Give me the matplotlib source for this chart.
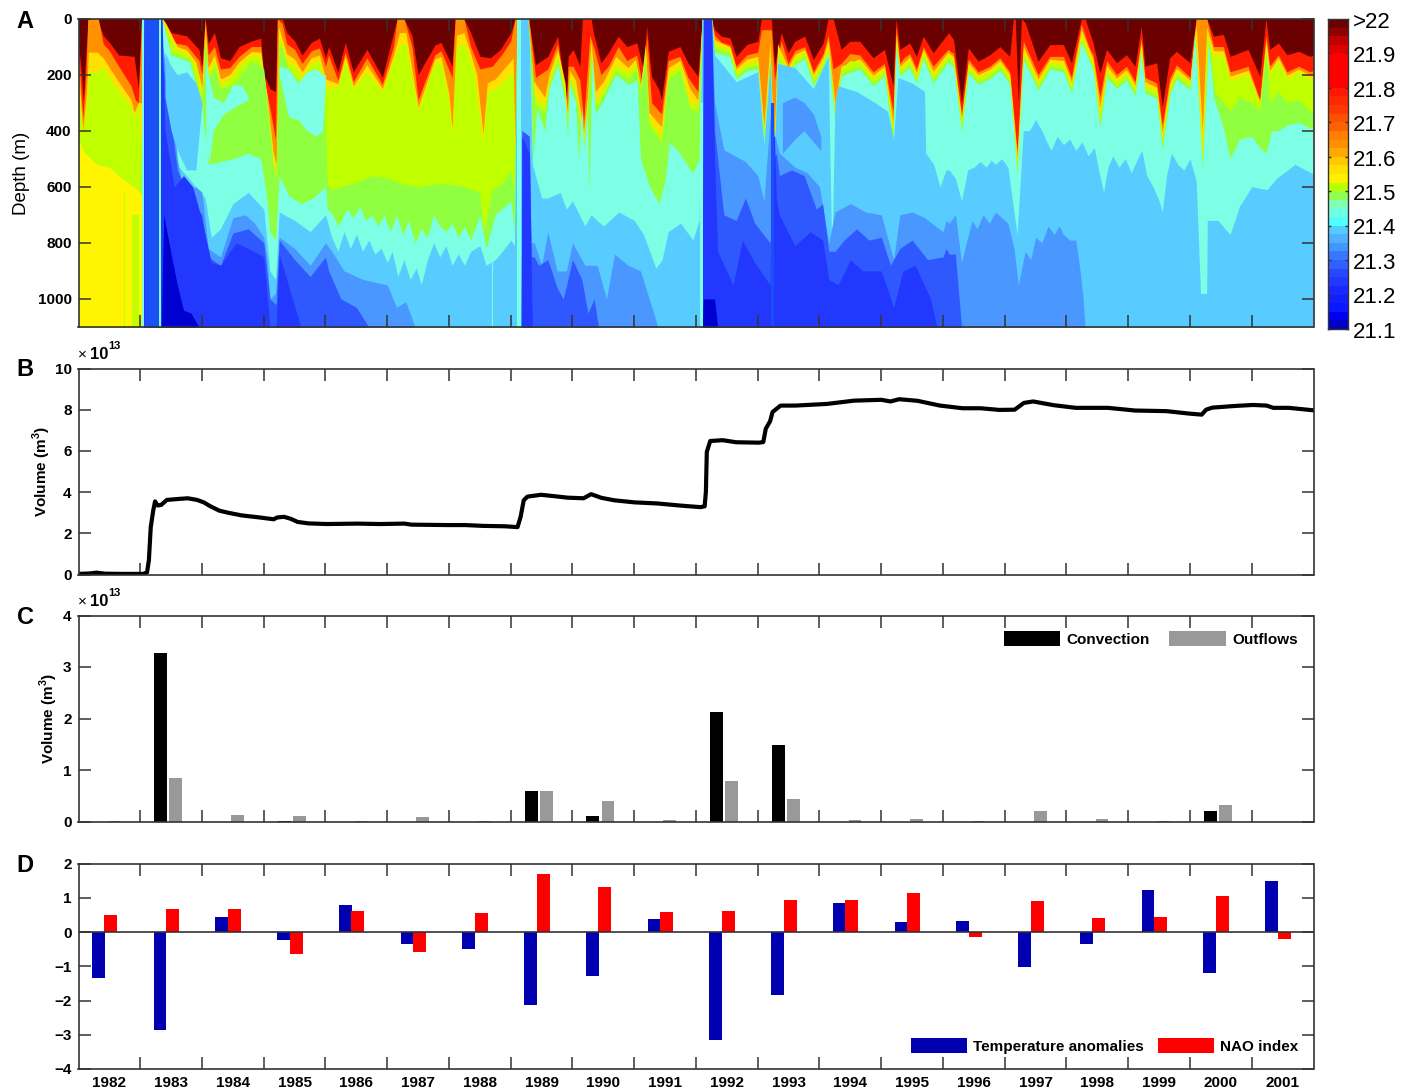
#!/usr/bin/python3

import numpy as np
import matplotlib
matplotlib.use('Agg')
import matplotlib.pyplot as plt
from matplotlib.colors import ListedColormap

W, H = 1410, 1090

plt.rcParams['font.family'] = ['Liberation Sans', 'DejaVu Sans']
plt.rcParams['font.weight'] = 'bold'
plt.rcParams['axes.labelweight'] = 'bold'
plt.rcParams['mathtext.fontset'] = 'custom'
plt.rcParams['mathtext.rm'] = 'Liberation Sans:bold'
plt.rcParams['mathtext.bf'] = 'Liberation Sans:bold'

# x axis of every panel: years since 1900
year_labels = ['1982', '1983', '1984', '1985', '1986', '1987', '1988', '1989', '1990', '1991',
               '1992', '1993', '1994', '1995', '1996', '1997', '1998', '1999', '2000', '2001']

# panel A: depth (m) of the lower edge of each colour band, (year, depth)
edge_maroon = [(82.0,90),(82.05,200),(82.08,290),(82.12,120),(82.16,0),(82.3,0),(82.4,60),(82.5,85),(82.65,130),(82.9,135),(82.97,250),(83.02,0),
    (83.36,0),(83.5,50),(83.75,62),(83.95,110),(84.0,170),(84.05,0),(84.1,90),(84.2,50),(84.3,140),(84.45,150),(84.6,100),(84.8,80),(84.95,70),(85.0,200),(85.1,250),(85.19,260),(85.22,0),
    (85.3,0),(85.37,50),(85.5,80),(85.62,130),(85.77,85),(85.9,70),(86.0,140),(86.05,100),(86.2,190),(86.32,85),(86.45,190),(86.67,110),(86.92,210),(87.16,0),(87.27,0),
    (87.4,60),(87.5,200),(87.77,95),(87.87,85),(88.05,170),(88.1,0),(88.24,0),(88.35,50),(88.5,135),(88.67,140),(88.83,111),(89.0,51),(89.07,0),
    (89.29,0),(89.4,165),(89.6,135),(89.76,63),(89.9,290),(89.93,135),(90.01,110),(90.12,170),(90.16,0),(90.3,0),(90.34,51),(90.46,158),(90.58,122),(90.74,63),(90.88,100),(91.04,87),(91.15,182),(91.2,27),(91.28,206),(91.4,254),(91.44,290),
    (91.55,117),(91.74,100),(91.87,158),(92.03,206),(92.1,0),(92.25,0),(92.3,39),(92.41,63),(92.55,69),(92.65,135),(92.82,93),(93.0,81),(93.06,0),(93.22,0),(93.27,170),(93.38,51),(93.49,122),(93.6,81),(93.76,63),(93.9,146),
    (94.06,87),(94.14,0),(94.22,0),(94.35,110),(94.49,81),(94.65,81),(94.87,140),(95.05,110),(95.19,240),(95.24,0),(95.3,110),(95.37,100),(95.46,87),(95.57,135),(95.68,63),(95.84,122),(96.09,51),
    (96.17,75),(96.3,300),(96.41,105),(96.57,152),(96.76,129),(96.92,100),(97.08,135),(97.14,0),(97.17,0),(97.22,300),(97.27,0),(97.33,15),(97.54,152),(97.73,93),(97.95,93),(98.08,158),(98.24,0),(98.3,0),(98.43,87),(98.54,194),(98.65,110),(98.81,158),(98.97,129),
    (99.11,170),(99.21,27),(99.27,170),(99.46,158),(99.55,313),(99.67,140),(99.78,117),(100.0,158),(100.1,0),(100.27,0),(100.38,63),(100.54,57),(100.65,135),(100.94,110),(101.13,206),(101.23,0),(101.29,110),(101.43,87),(101.57,129),(101.76,117),(101.94,135),(102.0,130)]

edge_red = [(82.0,120),(82.07,360),(82.12,200),(82.15,0),(82.32,0),(82.4,90),(82.5,115),(82.65,170),(82.85,240),(82.92,290),(82.97,300),(83.02,0),
    (83.36,0),(83.5,85),(83.75,95),(83.95,150),(84.0,200),(84.05,0),(84.1,130),(84.2,100),(84.3,180),(84.45,175),(84.6,135),(84.8,100),(84.95,100),(85.0,210),(85.1,320),(85.19,430),(85.22,0),(85.3,20),(85.37,90),(85.5,110),(85.62,160),(85.77,115),(85.9,105),
    (86.0,170),(86.05,130),(86.2,220),(86.32,120),(86.45,225),(86.67,140),(86.92,235),(87.1,100),(87.16,0),(87.27,0),(87.4,100),(87.5,290),(87.77,130),(87.87,115),(88.05,210),(88.1,0),(88.24,0),(88.35,100),(88.5,180),(88.7,170),(88.85,130),(89.0,80),(89.07,0),
    (89.29,0),(89.4,210),(89.6,180),(89.76,90),(89.9,340),(89.93,170),(90.01,170),(90.12,220),(90.18,370),(90.28,60),(90.34,100),(90.46,200),(90.58,170),(90.74,100),(90.88,150),(91.04,130),(91.15,260),(91.2,60),(91.28,300),(91.44,340),(91.55,150),(91.74,135),(91.87,210),(92.03,260),(92.1,0),
    (92.25,0),(92.3,60),(92.41,85),(92.55,95),(92.65,170),(92.82,130),(93.0,120),(93.06,40),(93.22,40),(93.27,220),(93.38,80),(93.49,160),(93.6,115),(93.76,100),(93.9,190),(94.06,125),(94.14,60),(94.22,180),(94.35,160),(94.49,125),(94.65,130),(94.87,190),(95.05,160),(95.19,330),(95.24,30),(95.3,160),(95.37,140),(95.46,125),(95.57,180),(95.68,100),(95.84,170),(96.08,110),
    (96.17,125),(96.3,340),(96.41,145),(96.57,190),(96.76,170),(96.92,140),(97.08,190),(97.2,470),(97.3,80),(97.54,200),(97.73,135),(97.95,135),(98.08,210),(98.24,20),(98.36,100),(98.43,130),(98.54,280),(98.65,150),(98.81,200),(98.97,170),(99.11,225),(99.21,70),(99.27,210),(99.46,230),(99.55,380),(99.67,215),(99.78,165),(100.0,210),(100.1,0),(100.27,0),(100.38,100),(100.54,100),(100.65,190),(100.94,170),(101.13,290),(101.23,60),(101.29,170),(101.43,130),(101.57,190),(101.76,170),(101.94,190),(102.0,185)]

edge_orange = [(82.0,190),(82.07,400),(82.13,260),(82.16,120),(82.3,120),(82.4,140),(82.5,175),(82.65,225),(82.85,290),(82.9,335),(82.97,300),(83.03,300),(83.06,0),
    (83.36,0),(83.42,20),(83.6,100),(83.75,112),(83.9,155),(84.0,245),(84.05,30),(84.1,175),(84.2,130),(84.3,215),(84.45,200),(84.6,155),(84.8,118),(84.95,120),(85.05,270),(85.15,470),(85.2,520),(85.24,30),(85.37,125),(85.5,145),(85.62,190),(85.77,140),(85.9,130),(86.0,215),(86.2,232),(86.32,135),(86.45,240),(86.67,165),(86.92,250),(87.1,130),(87.2,50),(87.3,50),(87.5,315),(87.77,145),(87.87,135),(88.0,270),(88.05,390),(88.12,60),(88.24,50),(88.35,125),(88.45,200),(88.55,410),(88.62,230),(88.75,215),(89.04,140),(89.07,500),(89.1,0),
    (89.28,0),(89.36,220),(89.55,280),(89.62,200),(89.76,110),(89.88,230),(89.92,350),(89.95,185),(90.05,220),(90.18,405),(90.24,280),(90.3,80),(90.37,260),(90.5,225),(90.7,135),(90.9,175),(91.02,145),(91.1,240),(91.18,90),(91.24,335),(91.44,385),(91.55,175),(91.74,150),(91.9,250),(92.03,290),(92.1,0),
    (92.25,0),(92.3,75),(92.55,102),(92.65,180),(92.82,145),(93.0,135),(93.1,380),(93.2,80),(93.26,470),(93.32,90),(93.49,175),(93.6,128),(93.76,110),(93.9,200),(94.06,137),(94.14,80),(94.25,300),(94.35,170),(94.65,143),(94.87,202),(95.05,170),(95.19,370),(95.24,55),(95.3,170),(95.46,137),(95.57,192),(95.68,110),(95.84,188),(96.08,120),
    (96.17,137),(96.3,355),(96.41,158),(96.57,200),(96.76,180),(96.92,150),(97.08,200),(97.2,495),(97.3,100),(97.54,215),(97.73,145),(97.95,150),(98.08,225),(98.24,40),(98.43,145),(98.54,315),(98.65,167),(98.81,212),(98.97,182),(99.11,237),(99.21,85),(99.27,225),(99.46,245),(99.55,405),(99.67,232),(99.78,177),(100.0,220),(100.1,20),(100.2,400),(100.27,30),(100.38,115),(100.54,115),(100.65,205),(100.94,185),(101.13,295),(101.23,80),(101.29,185),(101.43,140),(101.57,202),(101.76,180),(101.94,202),(102.0,198)]

edge_yellow = [(82.0,240),(82.07,420),(82.13,300),(82.17,190),(82.3,190),(82.4,170),(82.5,210),(82.65,260),(82.85,310),(82.9,355),(82.97,300),(83.04,600),(83.07,0),
    (83.35,0),(83.42,40),(83.6,110),(83.75,125),(83.9,170),(84.0,270),(84.05,60),(84.1,200),(84.2,150),(84.3,235),(84.45,215),(84.6,170),(84.8,130),(84.95,135),(85.05,300),(85.15,500),(85.2,560),(85.25,60),(85.37,150),(85.5,170),(85.62,210),(85.77,160),(85.9,150),(86.0,250),(86.2,240),(86.32,150),(86.45,250),(86.67,190),(86.92,260),(87.1,150),(87.2,90),(87.3,90),(87.5,330),(87.77,160),(87.87,150),(88.0,300),(88.05,420),(88.12,100),(88.24,90),(88.3,120),(88.4,190),(88.55,440),(88.62,260),(88.75,250),(89.04,190),(89.07,694),(89.12,0),
    (89.28,0),(89.3,50),(89.36,250),(89.4,280),(89.55,310),(89.62,220),(89.76,130),(89.88,260),(89.92,360),(89.95,200),(90.05,260),(90.18,430),(90.24,300),(90.3,100),(90.37,300),(90.5,250),(90.7,165),(90.9,195),(91.02,160),(91.1,240),(91.18,120),(91.24,360),(91.44,420),(91.55,200),(91.74,165),(91.9,300),(92.03,310),(92.1,0),
    (92.25,0),(92.3,90),(92.41,100),(92.55,110),(92.65,190),(92.82,160),(93.0,150),(93.03,260),(93.1,400),(93.2,120),(93.26,490),(93.32,120),(93.38,130),(93.49,190),(93.6,140),(93.76,120),(93.9,210),(94.06,150),(94.14,100),(94.25,330),(94.35,180),(94.49,150),(94.65,155),(94.87,215),(95.05,180),(95.19,400),(95.24,80),(95.3,180),(95.37,165),(95.46,150),(95.57,205),(95.68,120),(95.84,205),(96.08,130),
    (96.17,150),(96.3,370),(96.41,170),(96.57,210),(96.76,190),(96.92,160),(97.08,210),(97.2,520),(97.3,120),(97.54,230),(97.73,155),(97.95,165),(98.08,240),(98.24,60),(98.36,130),(98.43,160),(98.54,350),(98.65,185),(98.81,225),(98.97,195),(99.11,250),(99.21,100),(99.27,240),(99.46,260),(99.55,430),(99.67,250),(99.78,190),(100.0,230),(100.08,40),(100.2,500),(100.27,60),(100.38,130),(100.54,130),(100.65,220),(100.94,200),(101.13,300),(101.23,100),(101.29,200),(101.43,150),(101.57,215),(101.76,190),(101.94,215),(102.0,210)]

edge_lime = [(82.0,430),(82.1,480),(82.3,520),(82.5,530),(82.7,570),(82.9,600),(83.0,620),(83.06,0),
    (83.35,0),(83.5,120),(83.8,145),(84.0,290),(84.05,70),(84.1,215),(84.2,170),(84.3,250),(84.5,235),(84.8,150),(85.0,180),(85.15,520),(85.2,570),(85.25,80),(85.4,180),(85.6,230),(85.77,180),(85.98,270),(86.03,590),(86.1,610),(86.3,595),(86.5,585),(86.75,560),(87.0,570),(87.25,590),(87.5,600),(87.75,590),(88.0,590),(88.25,600),(88.5,620),(88.55,760),(88.62,700),(88.7,610),(88.85,590),(89.0,540),(89.05,620),(89.1,0),
    (89.3,60),(89.4,310),(89.55,330),(89.62,240),(89.76,150),(89.88,280),(89.92,380),(89.95,215),(90.05,280),(90.18,450),(90.24,320),(90.3,120),(90.37,320),(90.5,270),(90.7,185),(90.9,215),(91.02,180),(91.1,260),(91.18,140),(91.24,380),(91.44,440),(91.55,220),(91.74,185),(91.9,320),(92.03,330),(92.1,0),
    (92.25,0),(92.3,105),(92.55,125),(92.65,205),(92.82,175),(93.0,165),(93.1,420),(93.2,140),(93.26,510),(93.32,140),(93.49,205),(93.6,155),(93.76,135),(93.9,225),(94.06,165),(94.14,115),(94.25,350),(94.35,195),(94.65,170),(94.87,230),(95.05,195),(95.19,420),(95.24,95),(95.3,195),(95.46,165),(95.57,220),(95.68,135),(95.84,220),(96.08,145),(96.17,165),(96.3,390),(96.41,185),(96.57,225),(96.76,205),(96.92,175),(97.08,225),(97.2,540),(97.3,135),(97.54,245),(97.73,170),(97.95,180),(98.08,255),(98.24,75),(98.43,175),(98.54,370),(98.65,200),(98.81,240),(98.97,210),(99.11,265),(99.21,115),(99.27,255),(99.46,275),(99.55,445),(99.67,265),(99.78,205),(100.0,245),(100.08,50),(100.2,520),(100.3,75),
    (100.4,260),(100.65,330),(100.8,280),(101.0,300),(101.13,330),(101.23,120),(101.29,300),(101.43,260),(101.57,300),(101.76,290),(101.94,330),(102.0,335)]

edge_green = [(82.0,1100),(83.03,1100),(83.06,0),(83.35,0),(83.5,130),(83.8,155),(84.0,320),(84.1,520),(84.3,510),(84.5,500),(84.75,480),(84.95,500),(85.05,640),(85.1,760),(85.19,790),(85.25,560),(85.4,630),(85.6,660),(85.8,640),(86.0,600),(86.03,680),(86.12,700),(86.2,740),(86.25,720),(86.35,680),(86.45,710),(86.55,670),(86.65,720),(86.75,700),(86.85,740),(86.95,700),(87.05,760),(87.15,700),(87.25,770),(87.35,720),(87.45,800),(87.55,750),(87.65,780),(87.75,700),(87.85,740),(87.95,760),(88.05,730),(88.15,780),(88.25,740),(88.35,790),(88.45,730),(88.5,700),(88.6,820),(88.75,700),(89.0,650),(89.06,760),(89.1,0),
    (89.3,70),(89.36,500),(89.42,320),(89.55,400),(89.62,250),(89.76,165),(89.88,300),(89.92,420),(89.95,230),(90.05,300),(90.1,500),(90.15,310),(90.18,470),(90.24,340),(90.27,620),(90.32,130),(90.37,340),(90.5,290),(90.7,200),(90.9,235),(91.05,220),(91.1,500),(91.25,600),(91.4,660),(91.5,580),(91.57,440),(91.7,470),(91.85,520),(91.95,550),(92.05,500),(92.1,0),
    (92.25,0),(92.3,120),(92.55,135),(92.65,215),(92.82,185),(93.0,180),(93.1,440),(93.2,150),(93.26,530),(93.32,150),(93.49,215),(93.6,165),(93.76,145),(93.9,240),(94.06,175),(94.14,125),(94.25,370),(94.35,205),(94.65,180),(94.87,240),(95.05,205),(95.19,440),(95.24,105),(95.3,205),(95.46,175),(95.57,230),(95.68,145),(95.84,230),(96.08,155),(96.17,175),(96.3,405),(96.41,195),(96.57,235),(96.76,215),(96.92,185),(97.08,235),(97.2,555),(97.3,145),(97.54,255),(97.73,180),(97.95,190),(98.08,265),(98.24,85),(98.43,185),(98.54,390),(98.65,210),(98.81,250),(98.97,220),(99.11,275),(99.21,125),(99.27,265),(99.46,285),(99.55,470),(99.67,275),(99.78,215),(100.0,255),(100.08,60),(100.2,540),(100.3,85),
    (100.38,280),(100.54,390),(100.65,500),(100.8,430),(101.0,420),(101.13,460),(101.23,480),(101.32,400),(101.43,400),(101.57,380),(101.76,370),(101.94,390),(102.0,395)]

edge_turq = [(82.0,1100),(83.03,1100),(83.06,0),(83.35,0),(83.4,200),(83.5,500),(83.75,560),(84.05,640),(84.15,780),(84.3,750),(84.5,660),(84.75,620),(85.0,680),(85.1,900),(85.19,930),(85.25,690),(85.5,720),(85.75,760),(86.0,700),(86.1,780),(86.2,830),(86.3,760),(86.4,820),(86.5,770),(86.6,830),(86.7,790),(86.8,840),(86.9,820),(87.0,870),(87.08,830),(87.17,920),(87.27,860),(87.37,930),(87.47,890),(87.55,950),(87.65,860),(87.75,800),(87.85,850),(87.95,810),(88.05,880),(88.15,840),(88.25,880),(88.35,830),(88.5,810),(88.6,880),(88.75,860),(88.9,820),(89.0,790),(89.06,810),(89.1,0),
    (89.28,0),(89.3,80),(89.35,520),(89.5,640),(89.6,640),(89.8,620),(89.9,680),(90.0,650),(90.2,740),(90.3,700),(90.5,740),(90.75,690),(91.0,720),(91.15,770),(91.35,890),(91.45,860),(91.55,760),(91.75,730),(91.95,790),(92.05,720),(92.1,0),
    (92.25,0),(92.3,130),(92.65,225),(93.0,190),(93.1,450),(93.2,160),(93.26,540),(93.32,160),(93.6,175),(93.9,250),(94.14,135),(94.2,860),(94.25,300),(94.3,240),(94.6,260),(94.9,300),(95.1,330),(95.2,430),(95.27,210),(95.5,230),(95.7,260),(95.72,480),(95.85,520),(95.95,600),(96.05,540),
    (96.1,540),(96.2,570),(96.3,650),(96.4,540),(96.5,530),(96.6,510),(96.7,530),(96.78,505),(96.85,520),(96.95,500),(97.05,530),(97.2,770),(97.3,400),(97.4,400),(97.5,360),(97.6,400),(97.68,440),(97.75,470),(97.85,420),(97.95,450),(98.05,430),(98.15,470),(98.25,440),(98.35,490),(98.45,460),(98.52,540),(98.6,620),(98.67,530),(98.75,490),(98.85,530),(98.95,500),(99.05,550),(99.15,500),(99.22,470),(99.3,560),(99.4,600),(99.5,650),(99.55,690),(99.62,560),(99.7,480),(99.8,520),(99.9,540),(100.0,500),(100.1,580),(100.17,980),(100.27,980),(100.28,720),(100.45,720),(100.65,770),(100.8,670),(101.0,600),(101.25,610),(101.4,570),(101.7,520),(102.0,555)]

edge_ltblue = [(82.0,1100),(83.03,1100),(83.06,0),(83.35,0),(83.36,100),(83.5,280),(83.6,500),(83.7,620),(83.9,600),(84.0,620),(84.1,820),(84.3,850),(84.5,710),(84.7,700),(84.85,730),(85.0,780),(85.05,850),(85.1,1000),(85.19,980),(85.25,780),(85.5,820),(85.75,880),(86.0,800),(86.1,830),(86.3,900),(86.6,930),(87.0,950),(87.15,1030),(87.3,1010),(87.45,1100),(89.17,1100),(89.18,400),(89.3,420),(89.33,800),(89.38,800),(89.5,880),(89.6,760),(89.75,900),(89.9,900),(90.0,800),(90.2,880),(90.4,880),(90.55,1000),(90.68,840),(90.9,880),(91.1,900),(91.3,1040),(91.38,1100),(92.1,1100),(92.12,0),
    (92.25,0),(92.3,300),(92.45,468),(92.8,510),(93.0,560),(93.1,650),(93.2,350),(93.35,480),(93.6,530),(93.8,550),(94.0,600),(94.15,800),(94.25,690),(94.5,660),(94.75,690),(95.0,700),(95.2,860),(95.3,700),(95.5,690),(95.7,710),(96.0,760),(96.05,720),(96.1,730),(96.2,700),(96.3,870),(96.4,780),(96.47,720),(96.55,750),(96.65,700),(96.75,730),(96.85,690),(96.95,710),(97.05,730),(97.15,820),(97.22,950),(97.33,830),(97.42,860),(97.5,780),(97.6,800),(97.7,740),(97.8,770),(97.88,740),(97.95,770),(98.05,790),(98.15,790),(98.22,900),(98.27,1000),(98.3,1100),(102.0,1100)]

edge_med = [(82.0,1100),(83.03,1100),(83.06,0),(83.35,0),(83.36,150),(83.6,540),(83.8,640),(84.0,700),(84.1,850),(84.3,880),(84.5,765),(84.75,750),(85.0,800),(85.1,1000),(85.2,1020),(85.25,790),(85.5,860),(85.75,920),(86.0,850),(86.05,900),(86.25,1000),(86.5,1030),(86.7,1100),(89.17,1100),(89.18,400),(89.3,420),(89.33,850),(89.38,850),(89.45,880),(89.6,860),(89.75,960),(89.85,1000),(90.0,860),(90.15,930),(90.25,1050),(90.35,1000),(90.42,1100),(92.1,1100),(92.12,0),
    (92.25,0),(92.3,400),(92.45,700),(92.65,720),(92.8,640),(92.95,730),(93.2,800),(93.26,500),(93.3,480),(93.35,560),(93.55,540),(93.75,560),(93.95,680),(94.05,660),(94.15,830),(94.25,830),(94.4,790),(94.6,750),(94.8,790),(95.0,780),(95.15,880),(95.3,820),(95.5,790),(95.75,860),(96.0,850),(96.05,820),(96.1,840),(96.2,840),(96.3,1100),(102.0,1100)]

edge_blue3 = [(82.0,1100),(83.03,1100),(83.06,0),(83.35,0),(83.4,400),(83.55,600),(83.7,560),(83.85,600),(84.0,720),(84.15,870),(84.3,880),(84.55,800),(84.75,820),(85.0,850),(85.1,1100),(85.2,1100),(85.25,840),(85.6,1100),(89.17,1100),(89.18,420),(89.3,480),(89.35,1100),(92.1,1100),(92.12,0),
    (92.25,0),(92.3,500),(92.35,830),(92.6,950),(92.75,790),(92.95,870),(93.2,950),(93.23,420),(93.27,420),(93.3,640),(93.35,700),(93.6,810),(93.85,760),(94.05,790),(94.15,930),(94.3,950),(94.5,860),(94.7,900),(95.0,900),(95.2,1030),(95.35,900),(95.55,880),(95.8,1000),(95.9,1100),(102.0,1100)]

edge_blue1 = [(82.0,1100),(83.34,1100),(83.38,700),(83.5,840),(83.6,950),(83.7,1040),(83.82,1050),(83.95,1100),(92.1,1100),(92.12,1000),(92.3,1000),(92.35,1100),(102.0,1100)]

# warm water under the lime band before the first convection event, (year, top, bottom)
patch_yellow = [(82.0,430,1100),(82.1,480,1100),(82.3,520,1100),(82.5,530,1100),(82.7,570,1100),(82.9,600,1100),(83.0,620,1100),(83.05,640,1100)]
# lenses of lighter water above the main bands, (year, top, bottom)
lens_turq_a = [(84.06,150,470),(84.12,220,510),(84.18,280,400),(84.35,300,340),(84.5,235,320),(84.65,240,300),(84.75,280,290)]
lens_turq_b = [(85.25,170,200),(85.4,180,350),(85.55,230,360),(85.7,190,400),(85.85,180,420),(85.95,200,400),(86.0,200,230)]
lens_ltblue = [(83.4,120,280),(83.5,170,400),(83.6,200,470),(83.75,190,540),(83.9,230,540),(84.0,300,300)]
lens_med = [(93.4,300,480),(93.6,280,430),(93.75,300,400),(93.9,340,440),(94.02,420,470)]
# narrow vertical streaks, (year start, year end, top, bottom)
streaks_lime = [(82.73,82.76,620,1100),(82.86,82.98,700,1100)]
streaks_turq = [(83.03,83.06,0,1100),(83.3,83.33,0,1100),(88.69,88.71,800,1100),(89.1,89.17,0,1100),(92.07,92.12,300,1100)]
streaks_blue = [(83.07,83.3,0,1100),(93.22,93.27,300,1100)]

# colourbar, bottom to top
cbar_labels = ['21.1', '21.2', '21.3', '21.4', '21.5', '21.6', '21.7', '21.8', '21.9', '>22']
cbar_colors = ['#0000c8', '#0000f0', '#0818ff', '#1020ff', '#1828ff', '#2038ff', '#2848ff', '#3060ff', '#3878ff', '#4098ff',
               '#50b0ff', '#55ccff', '#50ffff', '#70ffe0', '#80ffb8', '#90ff50', '#b8ff00', '#fff000', '#ffe000', '#ffc800',
               '#ffa800', '#ff9000', '#ff8000', '#ff6000', '#ff5000', '#ff3800', '#ff2800', '#ff1800', '#ff0000', '#ff0000',
               '#ff0000', '#ff0000', '#e00000', '#c00000', '#900000', '#6a0000']

# panel B: cumulative volume, 1e13 m3
vol_t = [82.0,82.18,82.29,82.43,82.69,83.05,83.11,83.14,83.17,83.21,83.24,83.28,83.34,83.43,83.63,83.77,83.92,84.03,84.13,84.28,84.42,84.64,84.93,85.16,85.22,85.33,85.44,85.55,85.73,86.02,86.52,86.88,87.28,87.39,87.97,88.26,88.55,88.91,89.11,89.16,89.21,89.27,89.49,89.71,89.92,90.18,90.30,90.47,90.68,91.01,91.37,91.73,92.07,92.14,92.16,92.175,92.23,92.43,92.65,93.02,93.09,93.13,93.2,93.24,93.37,93.61,94.12,94.56,95.0,95.15,95.29,95.59,95.95,96.32,96.61,96.91,97.16,97.31,97.46,97.79,98.15,98.67,99.11,99.62,99.99,100.19,100.26,100.36,100.72,101.02,101.24,101.35,101.6,102.0]
vol_v = [0.03,0.05,0.09,0.04,0.03,0.03,0.1,0.7,2.3,3.1,3.55,3.35,3.38,3.62,3.67,3.7,3.62,3.5,3.32,3.1,3.0,2.87,2.77,2.68,2.77,2.8,2.7,2.55,2.48,2.45,2.47,2.45,2.47,2.42,2.4,2.4,2.36,2.34,2.3,2.8,3.6,3.78,3.87,3.8,3.73,3.7,3.9,3.72,3.6,3.5,3.45,3.35,3.27,3.31,4.0,5.95,6.48,6.52,6.42,6.4,6.43,7.08,7.44,7.89,8.2,8.2,8.28,8.44,8.48,8.4,8.51,8.43,8.2,8.07,8.07,7.99,8.0,8.33,8.4,8.22,8.09,8.09,7.96,7.93,7.81,7.76,8.0,8.1,8.18,8.23,8.2,8.09,8.09,7.97]

# panel C: yearly volumes, 1e13 m3
convection = [0.0, 3.28, 0.0, 0.01, 0.0, 0.0, 0.0, 0.60, 0.10, 0.0, 2.12, 1.48, 0.0, 0.0, 0.0, 0.0, 0.0, 0.0, 0.21, 0.0]
outflows = [0.01, 0.84, 0.13, 0.10, 0.01, 0.08, 0.01, 0.59, 0.39, 0.03, 0.78, 0.44, 0.03, 0.04, 0.01, 0.21, 0.05, 0.01, 0.32, 0.0]

# panel D
temp_anom = [-1.34, -2.85, 0.44, -0.23, 0.78, -0.36, -0.49, -2.14, -1.28, 0.39, -3.16, -1.85, 0.85, 0.28, 0.31, -1.03, -0.36, 1.24, -1.21, 1.50]
nao_index = [0.49, 0.68, 0.68, -0.64, 0.62, -0.59, 0.55, 1.69, 1.32, 0.58, 0.62, 0.94, 0.94, 1.13, -0.16, 0.91, 0.40, 0.45, 1.05, -0.19]


def panel(x0, y0, x1, y1):
	''' axes placed by pixel box'''
	return fig.add_axes([x0 / W, 1 - y1 / H, (x1 - x0) / W, (y1 - y0) / H])


def ptext(x, y, s, **kw):
	''' figure text placed by pixel'''
	return fig.text(x / W, 1 - y / H, s, **kw)


def style(ax):
	''' box and inward ticks shared by all panels'''
	for sp in ax.spines.values():
		sp.set_color('#333333')
		sp.set_linewidth(1.2)
	ax.set_xlim(82, 102)
	ax.set_xticks(np.arange(83, 102))
	ax.tick_params(axis='both', which='major', direction='in', length=8.6, width=1.1,
			color='#333333', top=True, right=True, labelbottom=False, labelsize=11, pad=5)


def fill_edge(ax, edge, color):
	t, d = zip(*edge)
	ax.fill_between(t, d, 1100, color=color, linewidth=0)


def fill_lens(ax, lens, color):
	t, top, bot = zip(*lens)
	ax.fill_between(t, top, bot, color=color, linewidth=0)


def fill_streaks(ax, streaks, color):
	for t0, t1, top, bot in streaks:
		ax.fill_between([t0, t1], [top, top], [bot, bot], color=color, linewidth=0)


fig = plt.figure()
fig.set_size_inches(14.1, 10.9)

# ---- A
ax = panel(78.5, 18.5, 1313.5, 327)
ax.set_facecolor('#6a0000')
fill_edge(ax, edge_maroon, '#ff1c00')
fill_edge(ax, edge_red, '#ff9000')
fill_edge(ax, edge_orange, '#ffe000')
fill_edge(ax, edge_yellow, '#c0ff00')
fill_edge(ax, edge_lime, '#90ff40')
fill_edge(ax, edge_green, '#7cffe4')
fill_edge(ax, edge_turq, '#58ccff')
fill_edge(ax, edge_ltblue, '#4a98ff')
fill_edge(ax, edge_med, '#3058ff')
fill_edge(ax, edge_blue3, '#2238ff')
fill_edge(ax, edge_blue1, '#0000d0')
fill_lens(ax, patch_yellow, '#fff500')
fill_lens(ax, lens_turq_a, '#7cffe4')
fill_lens(ax, lens_turq_b, '#7cffe4')
fill_lens(ax, lens_ltblue, '#58ccff')
fill_lens(ax, lens_med, '#4a98ff')
fill_streaks(ax, streaks_lime, '#c0ff00')
fill_streaks(ax, streaks_turq, '#7cffe4')
fill_streaks(ax, streaks_blue, '#1a50f5')
style(ax)
ax.set_ylim(1100, 0)
ax.set_yticks(np.arange(0, 1001, 200))
ptext(25, 21, 'A', fontsize=17, ha='center', va='center')
ptext(21, 173, 'Depth (m)', fontsize=13.5, fontweight='normal', rotation=90, ha='center', va='center')

# ---- colourbar
cax = panel(1327.5, 19, 1347.5, 329)
cmap = ListedColormap(cbar_colors)
cax.imshow(np.arange(len(cbar_colors))[::-1, None], cmap=cmap, aspect='auto',
		extent=[0, 1, 21.1, 22.0], interpolation='nearest')
cax.set_xticks([])
cax.set_yticks(np.arange(21.1, 21.95, 0.1))
cax.yaxis.tick_right()
cax.tick_params(axis='y', direction='in', length=2.5, width=1, color='#333333', left=True, right=True, labelright=False)
for sp in cax.spines.values():
	sp.set_color('#333333')
	sp.set_linewidth(1)
for i, lab in enumerate(cbar_labels):
	ptext(1352.5, 332 - i * 34.4, lab, fontsize=16, fontweight='normal', ha='left', va='center')

# ---- B
ax = panel(78.5, 368.5, 1313.5, 574.5)
ax.plot(vol_t, vol_v, color='black', linewidth=3, solid_joinstyle='round')
style(ax)
ax.set_ylim(0, 10)
ax.set_yticks(np.arange(0, 11, 2))
ax.set_ylabel('Volume (m$^{\\mathbf{3}}$)', fontsize=11)
ax.yaxis.set_label_coords((53 - 78.5) / 1235, 0.5)
ptext(25, 370, 'B', fontsize=17, ha='center', va='center')
ptext(78, 355, '\u00d7', fontsize=11, fontweight='normal', ha='left', va='center')
ptext(90, 355, '10', fontsize=12, ha='left', va='center')
ptext(108, 346, '13', fontsize=8, ha='left', va='center')

# ---- C
ax = panel(78.5, 615.5, 1313.5, 821.5)
x = 82 + np.arange(len(year_labels))
h1 = ax.bar(x + 0.33, convection, width=0.21, color='black', label='Convection')
h2 = ax.bar(x + 0.575, outflows, width=0.21, color='#999999', label='Outflows')
style(ax)
ax.set_ylim(0, 4)
ax.set_yticks(np.arange(0, 5))
ax.set_ylabel('Volume (m$^{\\mathbf{3}}$)', fontsize=11)
ax.yaxis.set_label_coords((60 - 78.5) / 1235, 0.5)
ax.legend(handles=[h1, h2], ncol=2, frameon=False, loc='upper right', fontsize=11,
		handlelength=3.7, handleheight=1.1, handletextpad=0.4, columnspacing=1.3,
		borderaxespad=0, bbox_to_anchor=(0.9922, 0.954))
ptext(25, 617, 'C', fontsize=17, ha='center', va='center')
ptext(78, 602, '\u00d7', fontsize=11, fontweight='normal', ha='left', va='center')
ptext(90, 602, '10', fontsize=12, ha='left', va='center')
ptext(108, 593, '13', fontsize=8, ha='left', va='center')

# ---- D
ax = panel(78.5, 863.5, 1313.5, 1069)
h1 = ax.bar(x + 0.32, temp_anom, width=0.21, color='#0000b0', label='Temperature anomalies')
h2 = ax.bar(x + 0.525, nao_index, width=0.21, color='#ff0000', label='NAO index')
ax.axhline(0, color='#333333', linewidth=1.2, zorder=5)
style(ax)
ax.set_ylim(-4, 2)
ax.set_yticks(np.arange(-4, 3))
ax.set_xticks(x + 0.5, year_labels, minor=True)
ax.tick_params(axis='x', which='minor', length=0, labelbottom=True, labelsize=11, pad=5)
ax.legend(handles=[h1, h2], ncol=2, frameon=False, loc='lower right', fontsize=11,
		handlelength=3.7, handleheight=1.1, handletextpad=0.4, columnspacing=0.9,
		borderaxespad=0, bbox_to_anchor=(0.993, 0.0455))
ptext(25, 865, 'D', fontsize=17, ha='center', va='center')

plt.savefig('out.png', dpi=100)
